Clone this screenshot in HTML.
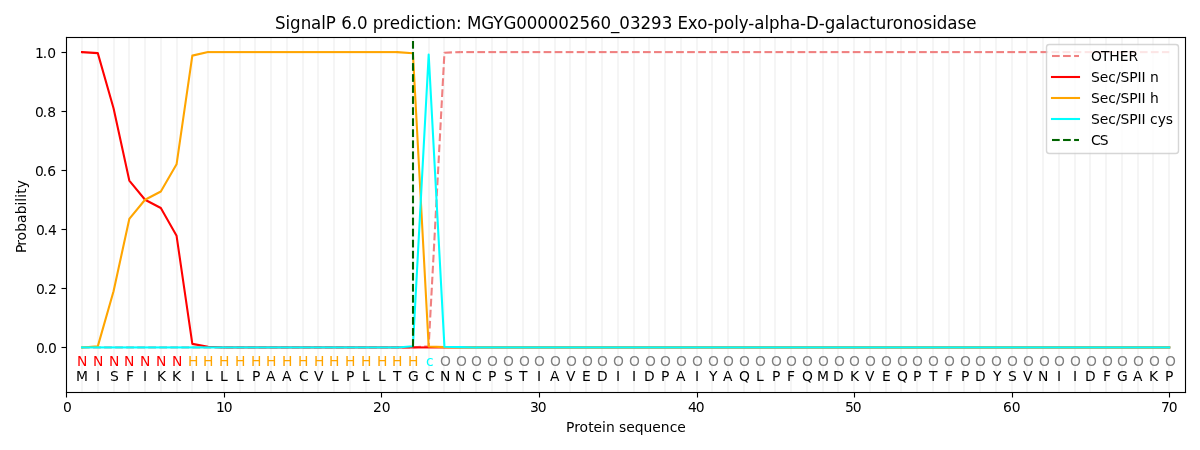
<!DOCTYPE html>
<html lang="en">
<head>
<meta charset="utf-8">
<title>SignalP 6.0 prediction</title>
<style>
html,body{margin:0;padding:0;background:#fff;}
body{width:1200px;height:450px;overflow:hidden;}
svg{display:block;}
text{font-family:"DejaVu Sans","Liberation Sans",sans-serif;font-size:13.889px;fill:#000;}
.t{font-size:16.667px}
.N{fill:#f00}.H{fill:#ffa500}.c{fill:#0ff}.O{fill:#808080}
.g{stroke:#f5f5f5;stroke-width:2.083;fill:none}
.k{stroke:#000;stroke-width:1.111;fill:none}
.l{fill:none;stroke-width:2.083;stroke-linejoin:round}
.s{stroke-linecap:square}.r{stroke-linecap:round}
.d{stroke-dasharray:7.708 3.333}
</style>
</head>
<body>
<svg width="1200" height="450" viewBox="0 0 1200 450">
<rect width="1200" height="450" fill="#fff"/>
<rect x="65.944" y="392.5" width="1.111" height="5"/>
<rect x="223.944" y="392.5" width="1.111" height="5"/>
<rect x="380.944" y="392.5" width="1.111" height="5"/>
<rect x="538.944" y="392.5" width="1.111" height="5"/>
<rect x="696.944" y="392.5" width="1.111" height="5"/>
<rect x="853.944" y="392.5" width="1.111" height="5"/>
<rect x="1011.944" y="392.5" width="1.111" height="5"/>
<rect x="1168.944" y="392.5" width="1.111" height="5"/>
<rect x="61.5" y="346.944" width="5" height="1.111"/>
<rect x="61.5" y="287.944" width="5" height="1.111"/>
<rect x="61.5" y="228.944" width="5" height="1.111"/>
<rect x="61.5" y="169.944" width="5" height="1.111"/>
<rect x="61.5" y="110.944" width="5" height="1.111"/>
<rect x="61.5" y="51.944" width="5" height="1.111"/>
<path class="g" d="M82 37.33V391.72M98 37.33V391.72M114 37.33V391.72M129 37.33V391.72M145 37.33V391.72M161 37.33V391.72M177 37.33V391.72M192 37.33V391.72M208 37.33V391.72M224 37.33V391.72M240 37.33V391.72M255 37.33V391.72M271 37.33V391.72M287 37.33V391.72M303 37.33V391.72M318 37.33V391.72M334 37.33V391.72M350 37.33V391.72M366 37.33V391.72M381 37.33V391.72M397 37.33V391.72M413 37.33V391.72M429 37.33V391.72M444 37.33V391.72M460 37.33V391.72M476 37.33V391.72M492 37.33V391.72M507 37.33V391.72M523 37.33V391.72M539 37.33V391.72M555 37.33V391.72M570 37.33V391.72M586 37.33V391.72M602 37.33V391.72M618 37.33V391.72M634 37.33V391.72M649 37.33V391.72M665 37.33V391.72M681 37.33V391.72M697 37.33V391.72M712 37.33V391.72M728 37.33V391.72M744 37.33V391.72M760 37.33V391.72M775 37.33V391.72M791 37.33V391.72M807 37.33V391.72M823 37.33V391.72M838 37.33V391.72M854 37.33V391.72M870 37.33V391.72M886 37.33V391.72M901 37.33V391.72M917 37.33V391.72M933 37.33V391.72M949 37.33V391.72M964 37.33V391.72M980 37.33V391.72M996 37.33V391.72M1012 37.33V391.72M1027 37.33V391.72M1043 37.33V391.72M1059 37.33V391.72M1075 37.33V391.72M1090 37.33V391.72M1106 37.33V391.72M1122 37.33V391.72M1138 37.33V391.72M1153 37.33V391.72M1169 37.33V391.72"/>
<rect fill="#f08080" x="82.034" y="346.382" width="7.708" height="2.083"/>
<rect fill="#f08080" x="93.076" y="346.382" width="7.708" height="2.083"/>
<rect fill="#f08080" x="104.118" y="346.382" width="7.708" height="2.083"/>
<rect fill="#f08080" x="115.159" y="346.382" width="7.708" height="2.083"/>
<rect fill="#f08080" x="126.201" y="346.382" width="7.708" height="2.083"/>
<rect fill="#f08080" x="137.243" y="346.382" width="7.708" height="2.083"/>
<rect fill="#f08080" x="148.284" y="346.382" width="7.708" height="2.083"/>
<rect fill="#f08080" x="159.326" y="346.382" width="7.708" height="2.083"/>
<rect fill="#f08080" x="170.368" y="346.382" width="7.708" height="2.083"/>
<rect fill="#f08080" x="181.409" y="346.382" width="7.708" height="2.083"/>
<rect fill="#f08080" x="192.451" y="346.382" width="7.708" height="2.083"/>
<rect fill="#f08080" x="203.493" y="346.382" width="7.708" height="2.083"/>
<rect fill="#f08080" x="214.534" y="346.382" width="7.708" height="2.083"/>
<rect fill="#f08080" x="225.576" y="346.382" width="7.708" height="2.083"/>
<rect fill="#f08080" x="236.618" y="346.382" width="7.708" height="2.083"/>
<rect fill="#f08080" x="247.659" y="346.382" width="7.708" height="2.083"/>
<rect fill="#f08080" x="258.701" y="346.382" width="7.708" height="2.083"/>
<rect fill="#f08080" x="269.743" y="346.382" width="7.708" height="2.083"/>
<rect fill="#f08080" x="280.784" y="346.382" width="7.708" height="2.083"/>
<rect fill="#f08080" x="291.826" y="346.382" width="7.708" height="2.083"/>
<rect fill="#f08080" x="302.868" y="346.382" width="7.708" height="2.083"/>
<rect fill="#f08080" x="313.909" y="346.382" width="7.708" height="2.083"/>
<rect fill="#f08080" x="324.951" y="346.382" width="7.708" height="2.083"/>
<rect fill="#f08080" x="335.993" y="346.382" width="7.708" height="2.083"/>
<rect fill="#f08080" x="347.034" y="346.382" width="7.708" height="2.083"/>
<rect fill="#f08080" x="358.076" y="346.382" width="7.708" height="2.083"/>
<rect fill="#f08080" x="369.118" y="346.382" width="7.708" height="2.083"/>
<rect fill="#f08080" x="380.159" y="346.382" width="7.708" height="2.083"/>
<rect fill="#f08080" x="391.201" y="346.382" width="7.708" height="2.083"/>
<rect fill="#f08080" x="402.243" y="346.382" width="7.708" height="2.083"/>
<path class="l d" stroke="#f08080" stroke-dashoffset="10.681" d="M412.92 347.42L428.68 346.18L444.44 52.69L460.19 52.1"/>
<rect fill="#f08080" x="460.194" y="51.058" width="2.788" height="2.083"/>
<rect fill="#f08080" x="466.316" y="51.058" width="7.708" height="2.083"/>
<rect fill="#f08080" x="477.357" y="51.058" width="7.708" height="2.083"/>
<rect fill="#f08080" x="488.399" y="51.058" width="7.708" height="2.083"/>
<rect fill="#f08080" x="499.441" y="51.058" width="7.708" height="2.083"/>
<rect fill="#f08080" x="510.482" y="51.058" width="7.708" height="2.083"/>
<rect fill="#f08080" x="521.524" y="51.058" width="7.708" height="2.083"/>
<rect fill="#f08080" x="532.566" y="51.058" width="7.708" height="2.083"/>
<rect fill="#f08080" x="543.607" y="51.058" width="7.708" height="2.083"/>
<rect fill="#f08080" x="554.649" y="51.058" width="7.708" height="2.083"/>
<rect fill="#f08080" x="565.691" y="51.058" width="7.708" height="2.083"/>
<rect fill="#f08080" x="576.732" y="51.058" width="7.708" height="2.083"/>
<rect fill="#f08080" x="587.774" y="51.058" width="7.708" height="2.083"/>
<rect fill="#f08080" x="598.816" y="51.058" width="7.708" height="2.083"/>
<rect fill="#f08080" x="609.857" y="51.058" width="7.708" height="2.083"/>
<rect fill="#f08080" x="620.899" y="51.058" width="7.708" height="2.083"/>
<rect fill="#f08080" x="631.941" y="51.058" width="7.708" height="2.083"/>
<rect fill="#f08080" x="642.982" y="51.058" width="7.708" height="2.083"/>
<rect fill="#f08080" x="654.024" y="51.058" width="7.708" height="2.083"/>
<rect fill="#f08080" x="665.066" y="51.058" width="7.708" height="2.083"/>
<rect fill="#f08080" x="676.107" y="51.058" width="7.708" height="2.083"/>
<rect fill="#f08080" x="687.149" y="51.058" width="7.708" height="2.083"/>
<rect fill="#f08080" x="698.191" y="51.058" width="7.708" height="2.083"/>
<rect fill="#f08080" x="709.232" y="51.058" width="7.708" height="2.083"/>
<rect fill="#f08080" x="720.274" y="51.058" width="7.708" height="2.083"/>
<rect fill="#f08080" x="731.316" y="51.058" width="7.708" height="2.083"/>
<rect fill="#f08080" x="742.357" y="51.058" width="7.708" height="2.083"/>
<rect fill="#f08080" x="753.399" y="51.058" width="7.708" height="2.083"/>
<rect fill="#f08080" x="764.441" y="51.058" width="7.708" height="2.083"/>
<rect fill="#f08080" x="775.482" y="51.058" width="7.708" height="2.083"/>
<rect fill="#f08080" x="786.524" y="51.058" width="7.708" height="2.083"/>
<rect fill="#f08080" x="797.566" y="51.058" width="7.708" height="2.083"/>
<rect fill="#f08080" x="808.607" y="51.058" width="7.708" height="2.083"/>
<rect fill="#f08080" x="819.649" y="51.058" width="7.708" height="2.083"/>
<rect fill="#f08080" x="830.691" y="51.058" width="7.708" height="2.083"/>
<rect fill="#f08080" x="841.732" y="51.058" width="7.708" height="2.083"/>
<rect fill="#f08080" x="852.774" y="51.058" width="7.708" height="2.083"/>
<rect fill="#f08080" x="863.816" y="51.058" width="7.708" height="2.083"/>
<rect fill="#f08080" x="874.857" y="51.058" width="7.708" height="2.083"/>
<rect fill="#f08080" x="885.899" y="51.058" width="7.708" height="2.083"/>
<rect fill="#f08080" x="896.941" y="51.058" width="7.708" height="2.083"/>
<rect fill="#f08080" x="907.982" y="51.058" width="7.708" height="2.083"/>
<rect fill="#f08080" x="919.024" y="51.058" width="7.708" height="2.083"/>
<rect fill="#f08080" x="930.066" y="51.058" width="7.708" height="2.083"/>
<rect fill="#f08080" x="941.107" y="51.058" width="7.708" height="2.083"/>
<rect fill="#f08080" x="952.149" y="51.058" width="7.708" height="2.083"/>
<rect fill="#f08080" x="963.191" y="51.058" width="7.708" height="2.083"/>
<rect fill="#f08080" x="974.232" y="51.058" width="7.708" height="2.083"/>
<rect fill="#f08080" x="985.274" y="51.058" width="7.708" height="2.083"/>
<rect fill="#f08080" x="996.316" y="51.058" width="7.708" height="2.083"/>
<rect fill="#f08080" x="1007.357" y="51.058" width="7.708" height="2.083"/>
<rect fill="#f08080" x="1018.399" y="51.058" width="7.708" height="2.083"/>
<rect fill="#f08080" x="1029.441" y="51.058" width="7.708" height="2.083"/>
<rect fill="#f08080" x="1040.482" y="51.058" width="7.708" height="2.083"/>
<rect fill="#f08080" x="1051.524" y="51.058" width="7.708" height="2.083"/>
<rect fill="#f08080" x="1062.566" y="51.058" width="7.708" height="2.083"/>
<rect fill="#f08080" x="1073.607" y="51.058" width="7.708" height="2.083"/>
<rect fill="#f08080" x="1084.649" y="51.058" width="7.708" height="2.083"/>
<rect fill="#f08080" x="1095.691" y="51.058" width="7.708" height="2.083"/>
<rect fill="#f08080" x="1106.732" y="51.058" width="7.708" height="2.083"/>
<rect fill="#f08080" x="1117.774" y="51.058" width="7.708" height="2.083"/>
<rect fill="#f08080" x="1128.816" y="51.058" width="7.708" height="2.083"/>
<rect fill="#f08080" x="1139.857" y="51.058" width="7.708" height="2.083"/>
<rect fill="#f08080" x="1150.899" y="51.058" width="7.708" height="2.083"/>
<rect fill="#f08080" x="1161.941" y="51.058" width="7.303" height="2.083"/>
<path class="l r" stroke="#f00" d="M82.03 52.1L97.79 53.13L113.55 108.21L129.3 180.57L145.06 199.76L160.82 208.03L176.57 235.79L192.33 343.88L208.09 346.83L223.84 347.42"/>
<path class="l" stroke="#f00" d="M80.995 52.031L82.633 52.139"/>
<rect fill="#f00" x="223.844" y="346.382" width="946.441" height="2.083"/>
<path class="l r" stroke="#ffa500" d="M82.03 347.42L97.79 346.39L113.55 291.31L129.3 218.96L145.06 199.76L160.82 191.49L176.57 164.32L192.33 55.64L208.09 52.1"/>
<path class="l" stroke="#ffa500" d="M80.995 347.492L82.633 347.384"/>
<rect fill="#ffa500" x="208.088" y="51.058" width="189.08" height="2.083"/>
<path class="l r" stroke="#ffa500" d="M397.17 52.1L412.92 53.28L428.68 346.54L444.44 347.13L460.19 347.42"/>
<rect fill="#ffa500" x="460.194" y="346.382" width="710.091" height="2.083"/>
<rect fill="#0ff" x="80.993" y="346.382" width="316.175" height="2.083"/>
<path class="l r" stroke="#0ff" d="M397.17 347.42L412.92 346.24L428.68 54.46L444.44 346.83L460.19 347.13L475.95 347.42"/>
<rect fill="#0ff" x="475.951" y="346.382" width="694.334" height="2.083"/>
<rect fill="#006400" x="411.958" y="41" width="2.083" height="7.708"/>
<rect fill="#006400" x="411.958" y="52.042" width="2.083" height="7.708"/>
<rect fill="#006400" x="411.958" y="63.083" width="2.083" height="7.708"/>
<rect fill="#006400" x="411.958" y="74.125" width="2.083" height="7.708"/>
<rect fill="#006400" x="411.958" y="85.167" width="2.083" height="7.708"/>
<rect fill="#006400" x="411.958" y="96.208" width="2.083" height="7.708"/>
<rect fill="#006400" x="411.958" y="107.25" width="2.083" height="7.708"/>
<rect fill="#006400" x="411.958" y="118.292" width="2.083" height="7.708"/>
<rect fill="#006400" x="411.958" y="129.333" width="2.083" height="7.708"/>
<rect fill="#006400" x="411.958" y="140.375" width="2.083" height="7.708"/>
<rect fill="#006400" x="411.958" y="151.417" width="2.083" height="7.708"/>
<rect fill="#006400" x="411.958" y="162.458" width="2.083" height="7.708"/>
<rect fill="#006400" x="411.958" y="173.5" width="2.083" height="7.708"/>
<rect fill="#006400" x="411.958" y="184.542" width="2.083" height="7.708"/>
<rect fill="#006400" x="411.958" y="195.583" width="2.083" height="7.708"/>
<rect fill="#006400" x="411.958" y="206.625" width="2.083" height="7.708"/>
<rect fill="#006400" x="411.958" y="217.667" width="2.083" height="7.708"/>
<rect fill="#006400" x="411.958" y="228.708" width="2.083" height="7.708"/>
<rect fill="#006400" x="411.958" y="239.75" width="2.083" height="7.708"/>
<rect fill="#006400" x="411.958" y="250.792" width="2.083" height="7.708"/>
<rect fill="#006400" x="411.958" y="261.833" width="2.083" height="7.708"/>
<rect fill="#006400" x="411.958" y="272.875" width="2.083" height="7.708"/>
<rect fill="#006400" x="411.958" y="283.917" width="2.083" height="7.708"/>
<rect fill="#006400" x="411.958" y="294.958" width="2.083" height="7.708"/>
<rect fill="#006400" x="411.958" y="306" width="2.083" height="7.708"/>
<rect fill="#006400" x="411.958" y="317.042" width="2.083" height="7.708"/>
<rect fill="#006400" x="411.958" y="328.083" width="2.083" height="7.708"/>
<rect fill="#006400" x="411.958" y="339.125" width="2.083" height="7.708"/>
<rect x="65.944" y="36.944" width="1.111" height="356.111"/>
<rect x="1184.944" y="36.944" width="1.111" height="356.111"/>
<rect x="65.944" y="391.944" width="1120.111" height="1.111"/>
<rect x="65.944" y="36.944" width="1120.111" height="1.111"/>
<text x="62.903" y="412.44">0</text>
<text x="215.907 223.782" y="412.44">10</text>
<text x="372.911 381.661" y="412.44">20</text>
<text x="529.977 537.727" y="412.44">30</text>
<text x="687.919 695.669" y="412.44">40</text>
<text x="844.985 852.735" y="412.44">50</text>
<text x="1002.989 1011.864" y="412.44">60</text>
<text x="1160.993 1168.743" y="412.44">70</text>
<text x="565.889 574.139 579.389 588.139 593.389 601.889 606.014 614.639 619.014 626.139 634.639 643.514 652.139 660.639 669.639 677.139" y="432">Protein sequence</text>
<text x="35.931 43.868 48.056" y="352.92">0.0</text>
<text x="35.931 43.868 48.056" y="293.86">0.2</text>
<text x="35.931 43.868 48.056" y="234.79">0.4</text>
<text x="34.931 42.681 47.181" y="175.73">0.6</text>
<text x="34.931 42.806 47.181" y="116.66">0.8</text>
<text x="34.931 42.806 47.181" y="57.6">1.0</text>
<text transform="translate(25.5 251.47) rotate(-90)" x="-1.625 5.625 11.062 19.625 28.5 37.125 45.875 49.625 53.75 57.625 63.125" y="0">Probability</text>
<text class="N" x="76.972" y="366.19">N</text>
<text x="75.909" y="380.96">M</text>
<text class="N" x="92.979" y="366.19">N</text>
<text x="95.916" y="380.96">I</text>
<text class="N" x="109.11" y="366.19">N</text>
<text x="109.923" y="380.96">S</text>
<text class="N" x="123.992" y="366.19">N</text>
<text x="125.929" y="380.96">F</text>
<text class="N" x="139.999" y="366.19">N</text>
<text x="142.936" y="380.96">I</text>
<text class="N" x="156.005" y="366.19">N</text>
<text x="156.943" y="380.96">K</text>
<text class="N" x="171.887" y="366.19">N</text>
<text x="171.949" y="380.96">K</text>
<text class="H" x="187.893" y="366.19">H</text>
<text x="190.956" y="380.96">I</text>
<text class="H" x="202.9" y="366.19">H</text>
<text x="204.963" y="380.96">L</text>
<text class="H" x="218.907" y="366.19">H</text>
<text x="219.969" y="380.96">L</text>
<text class="H" x="234.913" y="366.19">H</text>
<text x="235.976" y="380.96">L</text>
<text class="H" x="250.92" y="366.19">H</text>
<text x="251.92" y="380.96">P</text>
<text class="H" x="265.927" y="366.19">H</text>
<text x="265.989" y="380.96">A</text>
<text class="H" x="281.933" y="366.19">H</text>
<text x="281.996" y="380.96">A</text>
<text class="H" x="298.065" y="366.19">H</text>
<text x="298.878" y="380.96">C</text>
<text class="H" x="313.947" y="366.19">H</text>
<text x="313.884" y="380.96">V</text>
<text class="H" x="329.078" y="366.19">H</text>
<text x="330.891" y="380.96">L</text>
<text class="H" x="344.96" y="366.19">H</text>
<text x="345.96" y="380.96">P</text>
<text class="H" x="360.967" y="366.19">H</text>
<text x="361.904" y="380.96">L</text>
<text class="H" x="376.973" y="366.19">H</text>
<text x="377.911" y="380.96">L</text>
<text class="H" x="391.98" y="366.19">H</text>
<text x="392.917" y="380.96">T</text>
<text class="H" x="408.112" y="366.19">H</text>
<text x="407.924" y="380.96">G</text>
<text class="c" x="425.993" y="366.19">c</text>
<text x="424.931" y="380.96">C</text>
<text class="O" x="439.875" y="366.19">O</text>
<text x="439.875" y="380.96">N</text>
<text class="O" x="455.882" y="366.19">O</text>
<text x="454.882" y="380.96">N</text>
<text class="O" x="470.888" y="366.19">O</text>
<text x="471.951" y="380.96">C</text>
<text class="O" x="486.895" y="366.19">O</text>
<text x="487.895" y="380.96">P</text>
<text class="O" x="502.902" y="366.19">O</text>
<text x="503.964" y="380.96">S</text>
<text class="O" x="518.908" y="366.19">O</text>
<text x="518.971" y="380.96">T</text>
<text class="O" x="533.915" y="366.19">O</text>
<text x="536.977" y="380.96">I</text>
<text class="O" x="549.921" y="366.19">O</text>
<text x="549.984" y="380.96">A</text>
<text class="O" x="565.928" y="366.19">O</text>
<text x="565.991" y="380.96">V</text>
<text class="O" x="581.935" y="366.19">O</text>
<text x="581.997" y="380.96">E</text>
<text class="O" x="596.941" y="366.19">O</text>
<text x="596.879" y="380.96">D</text>
<text class="O" x="612.948" y="366.19">O</text>
<text x="615.886" y="380.96">I</text>
<text class="O" x="628.955" y="366.19">O</text>
<text x="631.892" y="380.96">I</text>
<text class="O" x="644.899" y="366.19">O</text>
<text x="644.086" y="380.96">D</text>
<text class="O" x="659.968" y="366.19">O</text>
<text x="660.968" y="380.96">P</text>
<text class="O" x="675.975" y="366.19">O</text>
<text x="675.912" y="380.96">A</text>
<text class="O" x="691.981" y="366.19">O</text>
<text x="694.919" y="380.96">I</text>
<text class="O" x="707.925" y="366.19">O</text>
<text x="708.988" y="380.96">Y</text>
<text class="O" x="722.995" y="366.19">O</text>
<text x="722.932" y="380.96">A</text>
<text class="O" x="738.876" y="366.19">O</text>
<text x="738.876" y="380.96">Q</text>
<text class="O" x="754.883" y="366.19">O</text>
<text x="755.945" y="380.96">L</text>
<text class="O" x="770.89" y="366.19">O</text>
<text x="771.89" y="380.96">P</text>
<text class="O" x="785.896" y="366.19">O</text>
<text x="786.959" y="380.96">F</text>
<text class="O" x="801.903" y="366.19">O</text>
<text x="801.903" y="380.96">Q</text>
<text class="O" x="817.91" y="366.19">O</text>
<text x="816.972" y="380.96">M</text>
<text class="O" x="833.916" y="366.19">O</text>
<text x="832.979" y="380.96">D</text>
<text class="O" x="849.048" y="366.19">O</text>
<text x="849.985" y="380.96">K</text>
<text class="O" x="864.929" y="366.19">O</text>
<text x="864.992" y="380.96">V</text>
<text class="O" x="880.936" y="366.19">O</text>
<text x="881.999" y="380.96">E</text>
<text class="O" x="896.943" y="366.19">O</text>
<text x="896.943" y="380.96">Q</text>
<text class="O" x="911.949" y="366.19">O</text>
<text x="912.949" y="380.96">P</text>
<text class="O" x="927.956" y="366.19">O</text>
<text x="928.894" y="380.96">T</text>
<text class="O" x="943.963" y="366.19">O</text>
<text x="944.9" y="380.96">F</text>
<text class="O" x="959.969" y="366.19">O</text>
<text x="960.969" y="380.96">P</text>
<text class="O" x="974.976" y="366.19">O</text>
<text x="974.914" y="380.96">D</text>
<text class="O" x="990.983" y="366.19">O</text>
<text x="992.92" y="380.96">Y</text>
<text class="O" x="1006.989" y="366.19">O</text>
<text x="1007.927" y="380.96">S</text>
<text class="O" x="1022.996" y="366.19">O</text>
<text x="1022.933" y="380.96">V</text>
<text class="O" x="1038.878" y="366.19">O</text>
<text x="1037.878" y="380.96">N</text>
<text class="O" x="1053.884" y="366.19">O</text>
<text x="1056.947" y="380.96">I</text>
<text class="O" x="1069.891" y="366.19">O</text>
<text x="1072.953" y="380.96">I</text>
<text class="O" x="1085.898" y="366.19">O</text>
<text x="1084.96" y="380.96">D</text>
<text class="O" x="1101.904" y="366.19">O</text>
<text x="1102.967" y="380.96">F</text>
<text class="O" x="1116.911" y="366.19">O</text>
<text x="1116.973" y="380.96">G</text>
<text class="O" x="1132.918" y="366.19">O</text>
<text x="1132.98" y="380.96">A</text>
<text class="O" x="1148.924" y="366.19">O</text>
<text x="1148.987" y="380.96">K</text>
<text class="O" x="1164.931" y="366.19">O</text>
<text x="1164.931" y="380.96">P</text>
<text transform="scale(0.9133 1)" x="300.997 312.495 317.422 329.193 340.553 351.64 356.704 367.791 373.54 385.037 390.786 402.283 408.031 419.529 426.646 437.87 449.367 454.431 464.423 471.54 476.604 487.691 499.188 505.484 511.233 526.837 540.113 551.2 565.161 576.658 588.155 599.653 611.15 622.921 634.418 645.915 657.413 668.91 678.08 689.851 701.212 712.709 724.48 735.977 741.726 753.086 763.352 774.712 781.145 792.779 803.866 808.93 819.196 825.902 836.989 842.053 853.414 864.911 875.861 882.431 896.529 902.962 914.596 925.682 930.747 941.696 951.688 958.805 970.303 977.42 988.644 1000.004 1011.091 1020.672 1025.736 1037.233 1048.32 1057.901" y="29" style="font-size:18.25px">SignalP 6.0 prediction: MGYG000002560_03293 Exo-poly-alpha-D-galacturonosidase</text>
<path d="M1049.28 153.5H1175.72Q1178.5 153.5 1178.5 150.72V47.28Q1178.5 44.5 1175.72 44.5H1049.28Q1046.5 44.5 1046.5 47.28V150.72Q1046.5 153.5 1049.28 153.5Z" fill="#fff" stroke="#ccc" stroke-width="1.389" opacity="0.8"/>
<rect fill="#f08080" x="1052" y="54.958" width="7.708" height="2.083"/>
<rect fill="#f08080" x="1063.042" y="54.958" width="7.708" height="2.083"/>
<rect fill="#f08080" x="1074.083" y="54.958" width="4.917" height="2.083"/>
<rect fill="#f00" x="1050.958" y="75.958" width="29.083" height="2.083"/>
<rect fill="#ffa500" x="1050.958" y="96.958" width="29.083" height="2.083"/>
<rect fill="#0ff" x="1050.958" y="117.958" width="29.083" height="2.083"/>
<rect fill="#006400" x="1052" y="138.958" width="7.708" height="2.083"/>
<rect fill="#006400" x="1063.042" y="138.958" width="7.708" height="2.083"/>
<rect fill="#006400" x="1074.083" y="138.958" width="4.917" height="2.083"/>
<text x="1090.875 1101 1109.25 1119.625 1128.375" y="60.83">OTHER</text>
<text x="1090.875 1099.625 1108.25 1115.875 1120.5 1129.25 1137.563 1141.375 1145.5 1149.875" y="81.78">Sec/SPII n</text>
<text x="1090.875 1099.625 1108.25 1115.875 1120.5 1129.25 1137.563 1141.375 1145.5 1149.875" y="102.72">Sec/SPII h</text>
<text x="1090.875 1099.625 1108.25 1115.875 1120.5 1129.25 1137.563 1141.375 1145.5 1150 1157.625 1165.625" y="123.67">Sec/SPII cys</text>
<text x="1090.875 1099.625" y="144.61">CS</text>
</svg>
</body>
</html>
